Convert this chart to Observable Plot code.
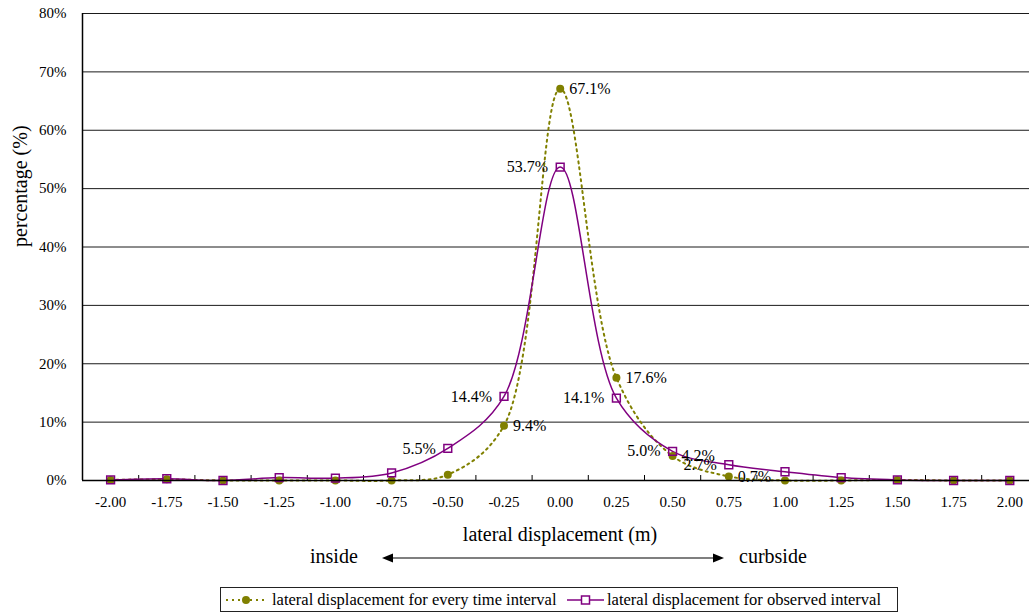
<!DOCTYPE html>
<html>
<head>
<meta charset="utf-8">
<script src="https://cdn.jsdelivr.net/npm/d3@7"></script>
<script src="https://cdn.jsdelivr.net/npm/@observablehq/plot@0.6"></script>
<style>
  body { margin: 0; background: #fff; }
  #wrap { position: relative; width: 1029px; height: 615px; font-family: "Liberation Serif", "Times New Roman", serif; color: #000; overflow: hidden; }
  #wrap svg.plot { position: absolute; left: 0; top: 0; }
  .ann { position: absolute; font-size: 20px; line-height: 20px; white-space: nowrap; }
  #legend { position: absolute; left: 220px; top: 587px; width: 676px; height: 23px; border: 1px solid #222; font-size: 16.5px; white-space: nowrap; }
  #legend > * { position: absolute; }
  #legend span { line-height: 23px; top: 0; }
  #legend svg { display: block; top: 6px; }
</style>
</head>
<body>
<div id="wrap"></div>
<script>
// ---- data ----
const displacement = [-2.00, -1.75, -1.50, -1.25, -1.00, -0.75, -0.50, -0.25, 0.00, 0.25, 0.50, 0.75, 1.00, 1.25, 1.50, 1.75, 2.00];
const everyInterval = [0.1, 0.2, 0, 0, 0, 0, 1.0, 9.4, 67.1, 17.6, 4.2, 0.7, 0, 0, 0.1, 0, 0];
const observedInterval = [0.1, 0.3, 0, 0.5, 0.4, 1.3, 5.5, 14.4, 53.7, 14.1, 5.0, 2.7, 1.5, 0.5, 0.1, 0, 0];
const everyLabels = [null, null, null, null, null, null, null, "9.4%", "67.1%", "17.6%", "4.2%", "0.7%", null, null, null, null, null];
const observedLabels = [null, null, null, null, null, null, "5.5%", "14.4%", "53.7%", "14.1%", "5.0%", "2.7%", null, null, null, null, null];
const yTicks = [0, 10, 20, 30, 40, 50, 60, 70, 80];
const seriesNames = ["lateral displacement for every time interval", "lateral displacement for observed interval"];
const colors = ["#808000", "#800080"];

const rows = displacement.map((x, i) => ({
  x, every: everyInterval[i], observed: observedInterval[i],
  everyLabel: everyLabels[i], observedLabel: observedLabels[i]
}));
const step = displacement[1] - displacement[0];
const bounds = displacement.map(d => d + step / 2).slice(0, -1);
const leftEdge = displacement[0] - step / 2;

const W = 1029, H = 548, mL = 82, mR = 0, mT = 13, mB = 68;
const pxPerUnit = 224.8;
const xMax = leftEdge + (W - mL - mR) / pxPerUnit;

const chart = Plot.plot({
  width: W, height: H,
  marginLeft: mL, marginRight: mR, marginTop: mT, marginBottom: mB,
  style: { fontFamily: "'Liberation Serif', 'Times New Roman', serif", fontSize: "15px", background: "transparent", color: "#000" },
  x: { type: "linear", domain: [leftEdge, xMax], ticks: displacement, tickFormat: d => d.toFixed(2), tickSize: 0, tickPadding: 16, label: null },
  y: { domain: [0, 80], ticks: yTicks, tickFormat: d => d + "%", tickSize: 0, tickPadding: 16, label: null },
  marks: [
    Plot.ruleY(yTicks.slice(1), { stroke: "#1a1a1a", strokeWidth: 1 }),
    Plot.ruleX(bounds, { stroke: "#000", strokeWidth: 1, insetTop: (H - mT - mB) - 5 }),
    Plot.line(rows, { x: "x", y: "every", stroke: colors[0], strokeWidth: 2, strokeDasharray: "2,4", curve: "catmull-rom" }),
    Plot.line(rows, { x: "x", y: "observed", stroke: colors[1], strokeWidth: 1.5, curve: "catmull-rom" }),
    Plot.dot(rows, { x: "x", y: "every", r: 4, fill: colors[0], stroke: "none" }),
    Plot.dot(rows, { x: "x", y: "observed", symbol: "square", r: 4.4, fill: "none", stroke: colors[1], strokeWidth: 1.5 }),
    Plot.ruleY([0], { stroke: "#000", strokeWidth: 1.5 }),
    Plot.ruleX([leftEdge], { stroke: "#000", strokeWidth: 1.5 }),
    Plot.text(rows.filter(d => d.everyLabel), { x: "x", y: "every", text: "everyLabel", textAnchor: "start", dx: 9, fontSize: 16, fill: "#000" }),
    Plot.text(rows.filter(d => d.observedLabel), { x: "x", y: "observed", text: "observedLabel", textAnchor: "end", dx: -12, fontSize: 16, fill: "#000" }),
    Plot.text(["percentage (%)"], { frameAnchor: "left", dx: -62, rotate: -90, fontSize: 20, fill: "#000" }),
    Plot.text(["lateral displacement (m)"], { frameAnchor: "bottom", dx: 4, dy: 54, lineAnchor: "middle", fontSize: 20, fill: "#000" })
  ]
});
chart.classList.add("plot");
const wrap = document.getElementById("wrap");
wrap.appendChild(chart);

// annotation row: inside <-> curbside
const inside = document.createElement("div");
inside.className = "ann"; inside.textContent = "inside";
inside.style.left = "310px"; inside.style.top = "546px";
wrap.appendChild(inside);
const curb = document.createElement("div");
curb.className = "ann"; curb.textContent = "curbside";
curb.style.left = "739px"; curb.style.top = "546px";
wrap.appendChild(curb);
const ns = "http://www.w3.org/2000/svg";
const arrow = document.createElementNS(ns, "svg");
arrow.setAttribute("width", 344); arrow.setAttribute("height", 12);
arrow.style.position = "absolute"; arrow.style.left = "381px"; arrow.style.top = "552px";
arrow.innerHTML = '<line x1="8" y1="6" x2="334" y2="6" stroke="#000" stroke-width="1.2"/>' +
  '<path d="M1,6 L12,1.5 L12,10.5 Z" fill="#000"/><path d="M343,6 L332,1.5 L332,10.5 Z" fill="#000"/>';
wrap.appendChild(arrow);

// legend
const legend = document.createElement("div");
legend.id = "legend";
function sample(i) {
  const s = document.createElementNS(ns, "svg");
  const w = i === 0 ? 44 : 37;
  s.setAttribute("width", w); s.setAttribute("height", 12);
  if (i === 0) {
    s.innerHTML = `<line x1="2" y1="6" x2="${w}" y2="6" stroke="${colors[0]}" stroke-width="2" stroke-dasharray="2,4"/>` +
      `<circle cx="${w / 2}" cy="6" r="4" fill="${colors[0]}"/>`;
  } else {
    s.innerHTML = `<line x1="0" y1="6" x2="${w}" y2="6" stroke="${colors[1]}" stroke-width="1.5"/>` +
      `<rect x="${w / 2 - 4}" y="2" width="8" height="8" fill="white" stroke="${colors[1]}" stroke-width="1.5"/>`;
  }
  return s;
}
const s0 = sample(0); s0.style.left = "3px"; legend.appendChild(s0);
const t0 = document.createElement("span"); t0.textContent = seriesNames[0]; t0.style.left = "51px"; legend.appendChild(t0);
const s1 = sample(1); s1.style.left = "346px"; legend.appendChild(s1);
const t1 = document.createElement("span"); t1.textContent = seriesNames[1]; t1.style.left = "386px"; legend.appendChild(t1);
wrap.appendChild(legend);
</script>
</body>
</html>
